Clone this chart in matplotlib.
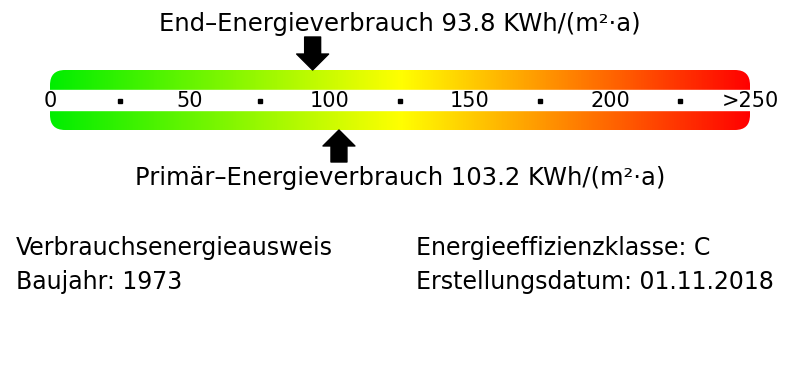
import numpy as np
import matplotlib
matplotlib.use("Agg")
import matplotlib.pyplot as plt
from matplotlib.patches import FancyBboxPatch
from matplotlib.colors import LinearSegmentedColormap

# scale values
scale_max = 250
tick_values = [0, 50, 100, 150, 200, 250]
tick_labels = ["0", "50", "100", "150", "200", ">250"]
dot_values = [25, 75, 125, 175, 225]

end_energy = 93.8
primary_energy = 103.2

title_top = "End\u2013Energieverbrauch 93.8 KWh/(m\u00b2\u00b7a)"
title_bottom = "Prim\u00e4r\u2013Energieverbrauch 103.2 KWh/(m\u00b2\u00b7a)"
info_left = ["Verbrauchsenergieausweis", "Baujahr: 1973"]
info_right = ["Energieeffizienzklasse: C", "Erstellungsdatum: 01.11.2018"]

plt.rcParams['font.family'] = ['DejaVu Sans']

fig = plt.figure(figsize=(8, 3.8), dpi=100)
ax = fig.add_axes([0, 0, 1, 1])
# x in kWh units (0 -> 50px, 250 -> 750px), y in pixels from top
px_per_unit = 700 / scale_max
ax.set_xlim(-50 / px_per_unit, scale_max + 50 / px_per_unit)
ax.set_ylim(380, 0)
ax.axis('off')

# gradient bar
cmap = LinearSegmentedColormap.from_list(
    "energy", [(0.0, "#00ee00"), (0.5, "#ffff00"), (1.0, "#ff0000")])
grad = np.linspace(0, 1, 512).reshape(1, -1)
img = ax.imshow(grad, cmap=cmap, extent=(0, scale_max, 130, 70),
                aspect='auto', interpolation='bilinear')
clip = FancyBboxPatch((0, 70), scale_max, 60,
                      boxstyle="round,pad=0,rounding_size=%f" % (15 / px_per_unit),
                      mutation_aspect=px_per_unit,
                      transform=ax.transData, facecolor='none', edgecolor='none')
ax.add_patch(clip)
img.set_clip_path(clip)

# white stripe with scale labels
ax.axhspan(90, 110, color='white', zorder=2)
for v, lab in zip(tick_values, tick_labels):
    ax.text(v, 101, lab, ha='center', va='center', fontsize=15, zorder=3)
ax.plot(dot_values, [101] * len(dot_values), linestyle='none', marker='s',
        markersize=2.8, color='black', zorder=3)

# arrows
arrow_style = "simple,head_length=11.5,head_width=23,tail_width=11.5"
ax.annotate('', xy=(end_energy, 70), xytext=(end_energy, 37),
            arrowprops=dict(arrowstyle=arrow_style, color='black',
                            shrinkA=0, shrinkB=0, mutation_scale=1))
ax.annotate('', xy=(primary_energy, 130), xytext=(primary_energy, 162),
            arrowprops=dict(arrowstyle=arrow_style, color='black',
                            shrinkA=0, shrinkB=0, mutation_scale=1))

ax.text(scale_max / 2, 31, title_top, ha='center', va='baseline', fontsize=17.5)
ax.text(scale_max / 2, 185, title_bottom, ha='center', va='baseline', fontsize=17.5)

# info block
for i, (l, r) in enumerate(zip(info_left, info_right)):
    yb = 1 - (255 + 33.5 * i) / 380
    fig.text(16 / 800, yb, l, ha='left', va='baseline', fontsize=17)
    fig.text(416 / 800, yb, r, ha='left', va='baseline', fontsize=17)

fig.savefig("out.png", dpi=100, facecolor='white')
